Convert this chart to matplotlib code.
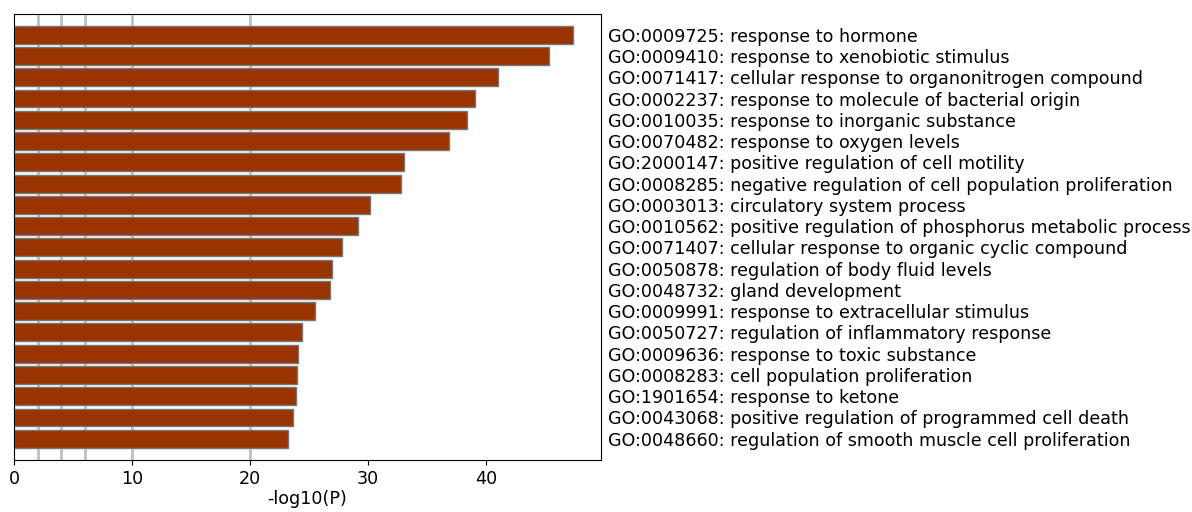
import matplotlib
matplotlib.use("Agg")
import matplotlib.pyplot as plt

# GO terms, top to bottom
terms = [
    "GO:0009725: response to hormone",
    "GO:0009410: response to xenobiotic stimulus",
    "GO:0071417: cellular response to organonitrogen compound",
    "GO:0002237: response to molecule of bacterial origin",
    "GO:0010035: response to inorganic substance",
    "GO:0070482: response to oxygen levels",
    "GO:2000147: positive regulation of cell motility",
    "GO:0008285: negative regulation of cell population proliferation",
    "GO:0003013: circulatory system process",
    "GO:0010562: positive regulation of phosphorus metabolic process",
    "GO:0071407: cellular response to organic cyclic compound",
    "GO:0050878: regulation of body fluid levels",
    "GO:0048732: gland development",
    "GO:0009991: response to extracellular stimulus",
    "GO:0050727: regulation of inflammatory response",
    "GO:0009636: response to toxic substance",
    "GO:0008283: cell population proliferation",
    "GO:1901654: response to ketone",
    "GO:0043068: positive regulation of programmed cell death",
    "GO:0048660: regulation of smooth muscle cell proliferation",
]
neg_log_p = [47.4, 45.4, 41.0, 39.1, 38.4, 36.9, 33.1, 32.8, 30.2, 29.2,
             27.8, 27.0, 26.8, 25.5, 24.4, 24.1, 24.0, 23.9, 23.7, 23.2]
grid_x = [2, 4, 6, 10, 20]

fig = plt.figure(figsize=(11.92, 5.12), dpi=100)
ax = fig.add_axes([0.0117, 0.1016, 0.4925, 0.872])

ypos = list(range(len(terms)))[::-1]
for gx in grid_x:
    ax.axvline(gx, color="#c0c0c0", lw=2, zorder=0)
ax.barh(ypos, neg_log_p, height=0.84, color="#993300",
        edgecolor="#777777", linewidth=1, zorder=2)

ax.set_ylim(-1, len(terms))
ax.set_xlim(0, max(neg_log_p) * 1.05)
ax.set_xticks([0, 10, 20, 30, 40])
ax.yaxis.tick_right()
ax.set_yticks(ypos)
ax.set_yticklabels(terms, fontsize=12.6)
ax.tick_params(axis="y", length=0, pad=5)
ax.tick_params(axis="x", labelsize=12.6)
ax.set_xlabel("-log10(P)", fontsize=12.6, labelpad=2)

fig.savefig("out.png", dpi=100)
